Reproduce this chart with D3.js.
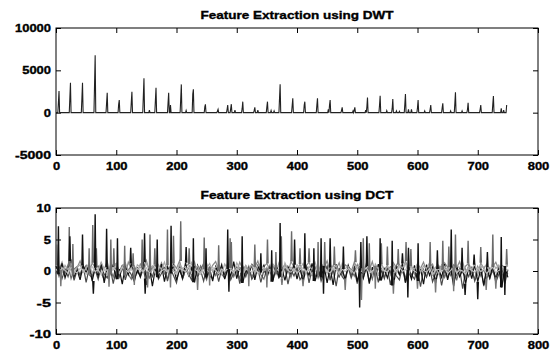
<!DOCTYPE html>
<html>
<head>
<meta charset="utf-8">
<script src="https://cdn.jsdelivr.net/npm/d3@7"></script>
<style>
  body { margin: 0; background: #fff; }
  svg { display: block; }
  text { font-family: "Liberation Sans", Arial, sans-serif; font-weight: bold; fill: #000; stroke: #000; stroke-width: 0.35px; }
</style>
</head>
<body>
<div id="chart"></div>
<script>
// ---- DWT panel: spikes on a zero baseline (sample index, main peak, shoulder before it)
const dwtPeakX    = [5, 24, 44, 65, 85, 105, 126, 146, 166, 187, 208, 228, 248, 269, 285, 291, 310, 330, 351, 372, 393, 413, 434, 455, 475, 496, 517, 538, 559, 580, 601, 622, 642, 663, 684, 705, 726];
const dwtPeakMain = [2550, 3540, 3540, 6770, 2360, 1490, 2480, 4050, 2950, 2360, 3340, 2750, 980, 400, 900, 1000, 1300, 640, 1300, 3350, 1700, 1300, 1700, 1500, 630, 630, 1800, 2000, 1620, 2200, 1500, 900, 1100, 2400, 1180, 900, 1970];
const dwtPeakSub  = [1180, 1770, 1700, 3340, 1180, 1000, 1300, 2040, 1500, 1180, 1600, 2200, 700, 200, 400, 500, 500, 300, 700, 1700, 830, 900, 900, 900, 300, 300, 700, 900, 500, 1020, 600, 400, 600, 1100, 400, 400, 1020];
const dwtBumpX = [155, 190, 216, 297, 335, 357, 362, 452, 493, 514, 549, 565, 570, 585, 590, 612, 655, 674, 739, 743];
const dwtBumpY = [300, 900, 250, 300, 300, 250, 200, 400, 200, 300, 240, 200, 150, 400, 400, 200, 200, 200, 500, 300];
const dwtEnd = [748, 900];

// ---- DCT panel: overlapping coefficient traces, one value every 5 samples
const dctStep = 5;
const dctA = [
  0.8,-0.5,1.2,-1.1,0.4,1.6,-0.9,0.2,-1.4,0.9,
  -0.3,1.1,-1.6,0.5,-0.8,1.3,-1.9,0.6,-0.2,1.0,
  -1.3,0.3,-2.1,0.8,-0.6,1.2,-1.5,0.1,-0.9,1.4,
  -1.2,0.7,-2.4,0.4,-1.0,1.1,-1.7,0.6,-0.4,0.9,
  -1.5,0.2,-1.1,1.3,-0.7,0.5,-1.8,0.9,-0.3,1.2,
  -1.0,0.4,-1.6,0.7,-0.5,1.0,-1.3,0.3,-0.8,1.5,
  -1.2,0.6,-1.9,0.2,-0.6,1.1,-1.4,0.8,-0.2,0.9,
  -1.1,0.5,-1.7,1.2,-0.9,0.3,-1.5,0.7,-0.4,1.0,
  -1.3,0.6,-1.8,0.4,-0.7,1.2,-1.6,0.2,-1.0,0.8,
  -1.9,0.5,-2.2,1.1,-0.8,0.3,-1.4,0.9,-0.5,1.0,
  -1.7,0.4,-1.2,0.8,-2.0,0.6,-0.9,1.1,-1.5,0.3,
  -1.1,0.7,-2.3,0.5,-0.6,1.2,-1.8,0.2,-1.3,0.9,
  -1.6,0.4,-2.1,1.0,-0.7,0.6,-1.9,0.3,-1.0,1.1,
  -1.4,0.5,-2.4,0.8,-0.9,0.2,-2.0,0.7,-1.2,1.0,
  -1.7,0.3,-2.2,0.6,-1.1,0.9,-1.5,0.4,-2.6,0.8,
  -1.0];
const dctB = [
  -0.4,0.6,-1.2,0.3,-0.9,0.8,-1.5,0.1,-0.6,0.9,
  -1.8,0.4,-0.7,0.2,-1.3,0.7,-0.5,-1.1,0.5,-2.0,
  0.3,-0.8,0.9,-1.4,0.2,-0.6,-1.7,0.6,-1.0,0.4,
  -2.2,0.1,-0.9,0.7,-1.3,-0.4,0.5,-1.6,0.3,-0.7,
  -1.9,0.6,-1.2,0.2,-0.5,-1.4,0.8,-1.0,0.1,-1.6,
  0.4,-0.8,-1.2,0.5,-1.7,0.3,-0.6,0.9,-1.4,-0.3,
  0.6,-2.0,0.2,-0.9,0.7,-1.3,-0.5,0.4,-1.8,0.1,
  -0.7,0.8,-1.5,0.3,-1.1,-0.4,0.6,-2.1,0.2,-0.8,
  0.5,-1.4,-0.6,0.9,-1.9,0.3,-1.0,0.4,-1.6,-0.2,
  0.7,-1.3,0.2,-2.4,0.5,-0.9,-1.5,0.6,-1.1,0.3,
  -2.0,0.4,-0.7,0.8,-1.6,-0.3,0.5,-1.8,0.2,-1.2,
  0.6,-2.2,0.1,-0.8,-1.4,0.7,-1.9,0.3,-0.6,-1.3,
  0.4,-2.5,0.2,-1.0,0.6,-1.7,-0.4,0.5,-2.3,0.1,
  -1.1,0.7,-1.5,-0.6,0.3,-2.8,0.2,-0.9,0.5,-1.6,
  -0.3,0.6,-2.4,0.1,-1.2,0.4,-1.8,-0.5,0.3,-2.0,
  0.2];
const dctC = [
  0.9,0.2,1.4,-0.3,0.7,1.1,-0.6,0.5,1.6,0.1,
  0.8,-0.4,1.3,0.6,-0.2,1.0,0.3,1.5,-0.5,0.7,
  1.2,0.0,0.9,-0.7,1.4,0.4,0.8,-0.3,1.1,0.5,
  1.7,-0.1,0.6,1.0,-0.4,1.3,0.2,0.9,-0.6,1.2,
  0.4,1.6,-0.2,0.7,1.1,0.0,1.4,-0.5,0.8,0.3,
  1.2,-0.3,0.9,1.5,0.1,0.6,-0.4,1.3,0.5,1.0,
  -0.2,1.4,0.3,0.8,-0.6,1.1,0.6,1.6,-0.1,0.7,
  1.2,0.2,0.9,-0.5,1.3,0.4,1.0,-0.3,1.5,0.6,
  0.1,1.1,-0.4,0.8,1.4,0.2,0.7,-0.6,1.2,0.5,
  1.6,-0.2,0.9,0.3,1.3,-0.5,1.0,0.6,-0.1,1.4,
  0.4,0.8,-0.3,1.2,0.1,1.5,-0.4,0.7,1.1,0.2,
  0.9,-0.6,1.3,0.5,1.0,-0.2,1.6,0.3,0.8,-0.5,
  1.2,0.4,1.4,-0.1,0.7,1.1,-0.4,0.9,0.2,1.3,
  0.6,-0.3,1.0,0.5,1.5,-0.2,0.8,1.2,0.1,0.9,
  -0.5,1.3,0.4,1.1,-0.3,0.7,1.4,0.2,0.9,0.6,
  1.0];
const dctD = [
  0.3,-0.2,0.5,0.1,-0.4,0.6,0.0,-0.3,0.4,0.2,
  -0.5,0.3,0.7,-0.1,0.2,-0.6,0.4,0.1,-0.3,0.5,
  0.0,-0.4,0.6,0.2,-0.2,0.3,-0.5,0.4,0.1,-0.1,
  0.5,-0.3,0.2,0.6,-0.4,0.0,0.3,-0.2,0.5,0.1,
  -0.6,0.4,0.2,-0.1,0.7,-0.3,0.3,0.0,-0.5,0.4,
  0.2,-0.2,0.6,0.1,-0.4,0.3,-0.1,0.5,0.2,-0.3,
  0.4,0.0,-0.6,0.3,0.1,-0.2,0.5,-0.4,0.2,0.6,
  -0.1,0.3,-0.5,0.4,0.0,-0.3,0.7,0.1,-0.2,0.4,
  -0.4,0.2,0.5,-0.1,0.3,-0.6,0.1,0.4,-0.2,0.6,
  0.0,-0.3,0.5,0.2,-0.5,0.3,-0.1,0.4,0.1,-0.4,
  0.6,-0.2,0.2,0.5,-0.3,0.0,0.4,-0.6,0.3,0.1,
  -0.2,0.5,-0.4,0.2,0.6,-0.1,0.3,-0.5,0.4,0.0,
  -0.3,0.5,0.1,-0.2,0.4,-0.6,0.2,0.3,-0.1,0.5,
  -0.4,0.1,0.6,-0.3,0.2,0.0,-0.5,0.4,0.1,-0.2,
  0.5,-0.1,0.3,-0.4,0.2,0.6,-0.3,0.1,0.4,-0.2,
  0.3];
const dctE = [
  0.5,-0.9,0.2,-0.4,1.0,-1.2,0.3,0.7,-0.8,0.1,
  0.9,-0.6,-1.1,0.4,0.8,-0.3,-1.4,0.6,0.2,-0.9,
  0.7,-1.0,0.3,1.1,-0.5,-1.3,0.5,0.0,-0.7,0.9,
  -0.2,-1.1,0.6,0.3,-0.9,1.0,-0.4,-1.2,0.7,0.1,
  -0.6,0.9,-1.3,0.2,0.5,-0.8,0.4,-1.0,0.8,-0.3,
  -1.4,0.6,0.1,-0.7,1.0,-0.5,-1.1,0.3,0.7,-0.9,
  0.2,-1.2,0.8,-0.4,0.5,-1.0,0.1,0.9,-0.6,-1.3,
  0.4,0.0,-0.8,1.1,-0.2,-1.2,0.6,0.3,-1.0,0.7,
  -0.5,0.2,-1.3,0.9,0.1,-0.7,0.5,-1.1,0.4,-0.3,
  0.8,-1.4,0.3,0.6,-0.9,0.0,-1.2,0.7,0.2,-0.8,
  1.0,-0.4,-1.1,0.5,0.1,-1.3,0.8,-0.6,0.3,-1.0,
  0.6,-0.2,-1.4,0.9,-0.5,0.2,-1.1,0.7,-0.8,0.4,
  -1.2,0.5,0.0,-0.9,1.0,-0.6,-1.3,0.3,0.8,-1.0,
  0.2,-0.7,0.6,-1.5,0.4,0.1,-1.1,0.9,-0.4,-1.2,
  0.7,-0.8,0.3,-1.3,0.5,-0.2,-1.0,0.8,-0.6,0.1,
  -0.5];
const dctF = [
  1.1,0.4,-0.3,0.9,0.2,1.3,-0.5,0.6,1.0,-0.2,
  0.5,1.2,-0.4,0.8,0.1,1.4,0.3,-0.6,0.9,0.4,
  1.1,-0.3,0.7,1.3,0.0,0.5,-0.7,1.0,0.6,-0.1,
  1.2,0.3,0.8,-0.5,1.0,0.2,1.4,-0.2,0.6,0.9,
  -0.4,1.1,0.4,0.7,-0.6,1.3,0.1,0.8,-0.3,1.0,
  0.5,1.2,-0.1,0.6,0.9,-0.5,1.1,0.3,0.7,-0.2,
  1.3,0.4,-0.6,0.9,0.2,1.0,-0.4,0.8,1.2,0.0,
  0.6,-0.3,1.1,0.5,0.9,-0.7,1.3,0.2,0.6,-0.1,
  1.0,0.4,1.2,-0.5,0.7,0.3,1.4,-0.2,0.8,0.5,
  -0.4,1.1,0.2,0.9,-0.6,1.2,0.4,0.7,-0.3,1.0,
  0.6,1.3,-0.1,0.5,0.8,-0.5,1.1,0.3,1.4,-0.2,
  0.7,0.2,1.0,-0.4,0.9,0.5,1.2,-0.6,0.6,0.3,
  1.1,-0.2,0.8,0.4,1.3,0.0,0.6,-0.5,1.0,0.7,
  0.2,1.2,-0.3,0.9,0.5,1.4,-0.1,0.7,0.3,1.1,
  -0.4,0.8,0.6,1.0,-0.2,1.3,0.4,0.9,-0.6,0.5,
  0.8];

// upward spikes of the DCT traces
const darkPeakX = [4, 23, 44, 65, 84, 102, 124, 147, 168, 191, 216, 228, 249, 285, 309, 340, 358, 372, 396, 413, 428, 440, 455, 477, 506, 516, 538, 558, 575, 585, 601, 633, 656, 674, 694, 716, 739];
const darkPeakY = [7.1, 5.5, 5.8, 9.0, 6.7, 5.2, 3.7, 6.0, 5.0, 7.2, 3.8, 5.2, 3.6, 6.6, 5.5, 2.8, 3.3, 7.6, 5.0, 6.0, 3.6, 5.2, 5.2, 3.9, 4.6, 5.5, 5.2, 4.8, 2.8, 3.7, 4.4, 3.3, 6.6, 3.7, 2.6, 3.0, 5.4];
const grayPeakX = [1, 22, 28, 55, 61, 67, 91, 96, 114, 128, 143, 156, 164, 185, 195, 207, 221, 246, 270, 289, 291, 330, 351, 365, 374, 391, 405, 420, 435, 446, 462, 497, 510, 520, 540, 550, 568, 581, 589, 621, 642, 652, 663, 684, 705, 725, 748];
const grayPeakY = [4.2, 7.0, 4.3, 3.6, 7.3, 3.6, 5.0, 3.6, 4.0, 2.8, 5.0, 5.8, 3.6, 6.6, 5.6, 7.9, 3.6, 5.3, 4.1, 5.2, 4.6, 4.2, 5.0, 3.0, 5.5, 6.3, 3.6, 3.6, 4.6, 4.6, 3.9, 3.3, 5.2, 4.4, 4.4, 3.9, 3.5, 4.6, 3.5, 4.6, 4.8, 3.9, 5.8, 4.8, 3.8, 5.8, 3.5];
// downward spikes
const darkDipX = [62, 148, 287, 444, 504, 584, 679, 700, 745];
const darkDipY = [-3.6, -3.6, -3.3, -3.6, -5.8, -4.2, -3.8, -4.5, -3.8];
const grayDipX = [8, 88, 130, 152, 190, 235, 255, 320, 350, 375, 410, 480, 507, 530, 560, 600, 630, 660, 714, 730];
const grayDipY = [-2.4, -2.5, -2.2, -2.6, -2.6, -3.0, -2.3, -2.4, -2.6, -2.2, -2.4, -3.0, -4.6, -2.8, -3.6, -2.8, -3.4, -3.2, -3.0, -2.8];

const xTicks = [0, 100, 200, 300, 400, 500, 600, 700, 800];
const dwtYTicks = [-5000, 0, 5000, 10000];
const dctYTicks = [-10, -5, 0, 5, 10];

const W = 557, H = 352;
const svg = d3.select('#chart').append('svg').attr('width', W).attr('height', H);
const plain = d => String(d);

function panel(top, bottom, yDomain, yTicks, title) {
  const x = d3.scaleLinear().domain([0, 800]).range([56, 538]);
  const y = d3.scaleLinear().domain(yDomain).range([bottom, top]);
  const g = svg.append('g');

  const stretch = sel => sel.each(function () {
    const t = d3.select(this);
    t.attr('textLength', t.text().length * 7.2).attr('lengthAdjust', 'spacingAndGlyphs');
  });

  g.append('g')
    .attr('transform', `translate(0,${bottom})`)
    .call(d3.axisBottom(x).tickValues(xTicks).tickFormat(plain).tickSizeInner(-5).tickSizeOuter(0).tickPadding(7))
    .call(a => a.select('.domain').remove())
    .selectAll('text').style('font-size', '11px').call(stretch);

  g.append('g')
    .attr('transform', 'translate(56,0)')
    .call(d3.axisLeft(y).tickValues(yTicks).tickFormat(plain).tickSizeInner(-5).tickSizeOuter(0).tickPadding(5))
    .call(a => a.select('.domain').remove())
    .selectAll('text').style('font-size', '11px').call(stretch);

  g.append('g')
    .attr('transform', `translate(0,${top})`)
    .call(d3.axisTop(x).tickValues(xTicks).tickSizeInner(-5).tickSizeOuter(0).tickFormat(''))
    .call(a => a.select('.domain').remove());

  g.append('g')
    .attr('transform', 'translate(538,0)')
    .call(d3.axisRight(y).tickValues(yTicks).tickSizeInner(-5).tickSizeOuter(0).tickFormat(''))
    .call(a => a.select('.domain').remove());

  g.selectAll('.tick line').attr('stroke', '#000');

  g.append('rect')
    .attr('x', 56).attr('y', top)
    .attr('width', 482).attr('height', bottom - top)
    .attr('fill', 'none').attr('stroke', '#000').attr('stroke-width', 1);

  svg.append('text')
    .attr('x', 297).attr('y', top - 9)
    .attr('text-anchor', 'middle')
    .style('font-size', '11px')
    .attr('textLength', 193).attr('lengthAdjust', 'spacingAndGlyphs')
    .text(title);

  return { x, y, g };
}

// ---- top panel
const p1 = panel(28, 155, [-5000, 10000], dwtYTicks, 'Feature Extraction using DWT');
let dwtPts = [[0, 0]];
dwtPeakX.forEach((px, i) => {
  dwtPts.push([px - 2, 0], [px - 1, dwtPeakSub[i]], [px, dwtPeakMain[i]], [px + 1, 0]);
});
dwtBumpX.forEach((bx, i) => {
  dwtPts.push([bx - 1, 0], [bx, dwtBumpY[i]], [bx + 1, 0]);
});
dwtPts.sort((a, b) => a[0] - b[0]);
dwtPts.push([dwtEnd[0] - 1, 0], dwtEnd);

const line1 = d3.line().x(d => p1.x(d[0])).y(d => p1.y(d[1]));
p1.g.append('path')
  .datum(dwtPts)
  .attr('fill', 'none')
  .attr('stroke', '#222')
  .attr('stroke-width', 1.1)
  .attr('d', line1);

// ---- bottom panel
const p2 = panel(208, 334, [-10, 10], dctYTicks, 'Feature Extraction using DCT');
const line2 = d3.line().x(d => p2.x(d[0])).y(d => p2.y(d[1]));

const traces = [
  { vals: dctC, color: '#8a8a8a' },
  { vals: dctE, color: '#6e6e6e' },
  { vals: dctB, color: '#4a4a4a' },
  { vals: dctA, color: '#111' },
  { vals: dctF, color: '#a8a8a8' },
  { vals: dctD, color: '#bdbdbd' }
];
traces.forEach(t => {
  p2.g.append('path')
    .datum(t.vals.map((v, i) => [i * dctStep, v]))
    .attr('fill', 'none')
    .attr('stroke', t.color)
    .attr('stroke-width', 1.2)
    .attr('d', line2);
});

// spikes rise from the nearest sample of their trace
function spikes(xs, ys, base, color) {
  const data = xs.map((sx, i) => {
    const b = base[Math.min(base.length - 1, Math.round(sx / dctStep))];
    return [[sx - 1, b], [sx, ys[i]], [sx + 1, b]];
  });
  p2.g.selectAll(null)
    .data(data)
    .enter()
    .append('path')
    .attr('fill', 'none')
    .attr('stroke', color)
    .attr('stroke-width', 1.4)
    .attr('d', line2);
}
spikes(grayPeakX, grayPeakY, dctC, '#6a6a6a');
spikes(grayDipX, grayDipY, dctE, '#777');
spikes(darkPeakX, darkPeakY, dctA, '#111');
spikes(darkDipX, darkDipY, dctA, '#111');
</script>
</body>
</html>
